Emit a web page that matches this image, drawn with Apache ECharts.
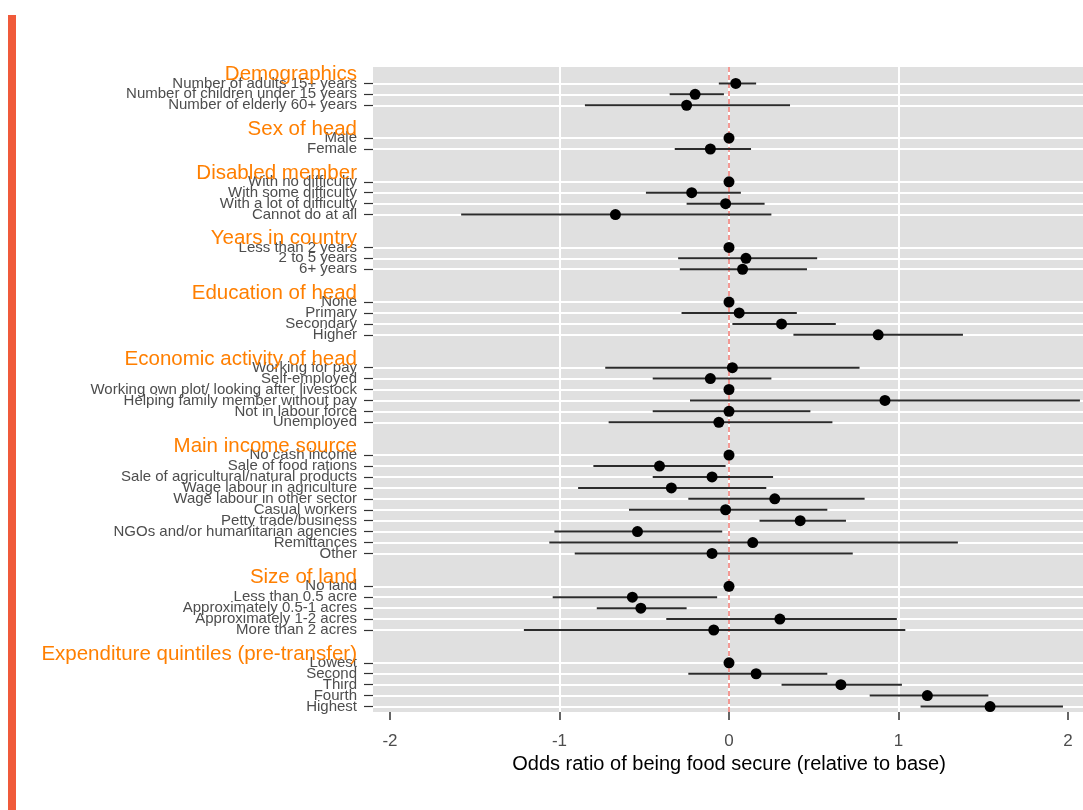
<!DOCTYPE html>
<html>
<head>
<meta charset="utf-8">
<script src="https://cdn.jsdelivr.net/npm/echarts@6/dist/echarts.min.js"></script>
<style>
  html, body { margin: 0; padding: 0; background: #ffffff; }
  #chart { width: 1083px; height: 810px; }
</style>
</head>
<body>
<div id="chart"></div>
<script>
// ---- Data ----
const groupNames = [
  'Demographics', 'Sex of head', 'Disabled member', 'Years in country',
  'Education of head', 'Economic activity of head', 'Main income source',
  'Size of land', 'Expenditure quintiles (pre-transfer)'
];
const groupSizes = [3, 2, 4, 3, 4, 6, 10, 5, 5];
const labels = [
  'Number of adults 15+ years', 'Number of children under 15 years', 'Number of elderly 60+ years',
  'Male', 'Female',
  'With no difficulty', 'With some difficulty', 'With a lot of difficulty', 'Cannot do at all',
  'Less than 2 years', '2 to 5 years', '6+ years',
  'None', 'Primary', 'Secondary', 'Higher',
  'Working for pay', 'Self-employed', 'Working own plot/ looking after livestock',
  'Helping family member without pay', 'Not in labour force', 'Unemployed',
  'No cash income', 'Sale of food rations', 'Sale of agricultural/natural products',
  'Wage labour in agriculture', 'Wage labour in other sector', 'Casual workers',
  'Petty trade/business', 'NGOs and/or humanitarian agencies', 'Remittances', 'Other',
  'No land', 'Less than 0.5 acre', 'Approximately 0.5-1 acres', 'Approximately 1-2 acres', 'More than 2 acres',
  'Lowest', 'Second', 'Third', 'Fourth', 'Highest'
];
const estimate = [
  0.04, -0.20, -0.25,
  0, -0.11,
  0, -0.22, -0.02, -0.67,
  0, 0.10, 0.08,
  0, 0.06, 0.31, 0.88,
  0.02, -0.11, 0, 0.92, 0.00, -0.06,
  0, -0.41, -0.10, -0.34, 0.27, -0.02, 0.42, -0.54, 0.14, -0.10,
  0, -0.57, -0.52, 0.30, -0.09,
  0, 0.16, 0.66, 1.17, 1.54
];
const lower = [
  -0.06, -0.35, -0.85,
  null, -0.32,
  null, -0.49, -0.25, -1.58,
  null, -0.30, -0.29,
  null, -0.28, 0.02, 0.38,
  -0.73, -0.45, null, -0.23, -0.45, -0.71,
  null, -0.80, -0.45, -0.89, -0.24, -0.59, 0.18, -1.03, -1.06, -0.91,
  null, -1.04, -0.78, -0.37, -1.21,
  null, -0.24, 0.31, 0.83, 1.13
];
const upper = [
  0.16, -0.03, 0.36,
  null, 0.13,
  null, 0.07, 0.21, 0.25,
  null, 0.52, 0.46,
  null, 0.40, 0.63, 1.38,
  0.77, 0.25, null, 2.07, 0.48, 0.61,
  null, -0.02, 0.26, 0.22, 0.80, 0.58, 0.69, -0.04, 1.35, 0.73,
  null, -0.07, -0.25, 0.99, 1.04,
  null, 0.58, 1.02, 1.53, 1.97
];
const xTicks = [-2, -1, 0, 1, 2];
const xTitle = 'Odds ratio of being food secure (relative to base)';

// ---- Build rows (blank rows separate groups) ----
const categories = [''];
const rowIndex = [];
const headerRow = [];
let k = 0;
groupSizes.forEach(function (n, g) {
  if (g > 0) { categories.push('', ''); }
  headerRow.push(categories.length);
  for (let i = 0; i < n; i++) {
    rowIndex.push(categories.length);
    categories.push(labels[k++]);
  }
});

const pointData = estimate.map(function (v, i) { return [v, rowIndex[i]]; });
const barData = [];
lower.forEach(function (lo, i) {
  if (lo !== null && upper[i] !== null) barData.push([lo, upper[i], rowIndex[i]]);
});
const headerData = headerRow.map(function (r, g) {
  return { value: [-2.1, r], name: groupNames[g] };
});

const FONT = '"Liberation Sans", Arial, Helvetica, sans-serif';
const isLabeled = function (index, value) { return value !== ''; };

const chart = echarts.init(document.getElementById('chart'), null, { renderer: 'canvas' });
chart.setOption({
  animation: false,
  backgroundColor: '#ffffff',
  textStyle: { fontFamily: FONT },
  graphic: [{
    type: 'rect', left: 8, top: 15,
    shape: { width: 8, height: 800 },
    style: { fill: '#F05A3A' }
  }],
  grid: {
    left: 373, top: 67, width: 712, height: 645,
    show: true, backgroundColor: '#E0E0E0', borderWidth: 0,
    containLabel: false, outerBoundsMode: 'none'
  },
  xAxis: {
    type: 'value', min: -2.1, max: 2.1,
    axisLine: { show: false, onZero: false },
    axisTick: { show: true, length: 8, customValues: xTicks, lineStyle: { color: '#333333', width: 1.5 } },
    axisLabel: {
      customValues: xTicks, margin: 21, fontSize: 17, color: '#4D4D4D', fontFamily: FONT,
      formatter: function (v) { return Number.isInteger(v) ? String(v) : ''; }
    },
    splitLine: { show: true, showMinLine: false, showMaxLine: false, lineStyle: { color: '#FFFFFF', width: 2 } },
    name: xTitle, nameLocation: 'middle', nameGap: 42,
    nameTextStyle: { fontSize: 20, color: '#000000', fontFamily: FONT }
  },
  yAxis: {
    type: 'category', data: categories, inverse: true, boundaryGap: true,
    axisLine: { show: false, onZero: false },
    axisTick: { show: true, length: 9, alignWithLabel: true, interval: isLabeled, lineStyle: { color: '#333333', width: 1.2 } },
    axisLabel: { interval: 0, margin: 16, fontSize: 15, color: '#4D4D4D', fontFamily: FONT, hideOverlap: false },
    splitLine: { show: true, alignWithLabel: true, interval: isLabeled, lineStyle: { color: '#FFFFFF', width: 2 } }
  },
  series: [
    {
      type: 'scatter', id: 'estimate', silent: true, z: 4,
      data: pointData, symbol: 'circle', symbolSize: 11,
      itemStyle: { color: '#000000', opacity: 1 },
      markLine: {
        silent: true, z: 1, symbol: ['none', 'none'], label: { show: false },
        lineStyle: { color: '#F0807A', type: [5, 3], width: 1.6, opacity: 1 },
        data: [{ xAxis: 0 }]
      }
    },
    {
      type: 'custom', id: 'ci', silent: true, z: 3,
      data: barData, encode: { x: [0, 1], y: 2 },
      renderItem: function (params, api) {
        const y = api.value(2);
        const a = api.coord([api.value(0), y]);
        const b = api.coord([api.value(1), y]);
        return {
          type: 'line',
          shape: { x1: a[0], y1: a[1], x2: b[0], y2: b[1] },
          style: { stroke: '#2B2B2B', lineWidth: 2 }
        };
      }
    },
    {
      type: 'scatter', id: 'headers', silent: true, z: 5,
      data: headerData, symbolSize: 0,
      itemStyle: { opacity: 1 },
      label: {
        show: true, position: 'left', distance: 16, offset: [0, -8.7],
        formatter: function (p) { return p.name; },
        color: '#FF7F00', fontSize: 20.5, fontFamily: FONT
      }
    }
  ]
});
</script>
</body>
</html>
